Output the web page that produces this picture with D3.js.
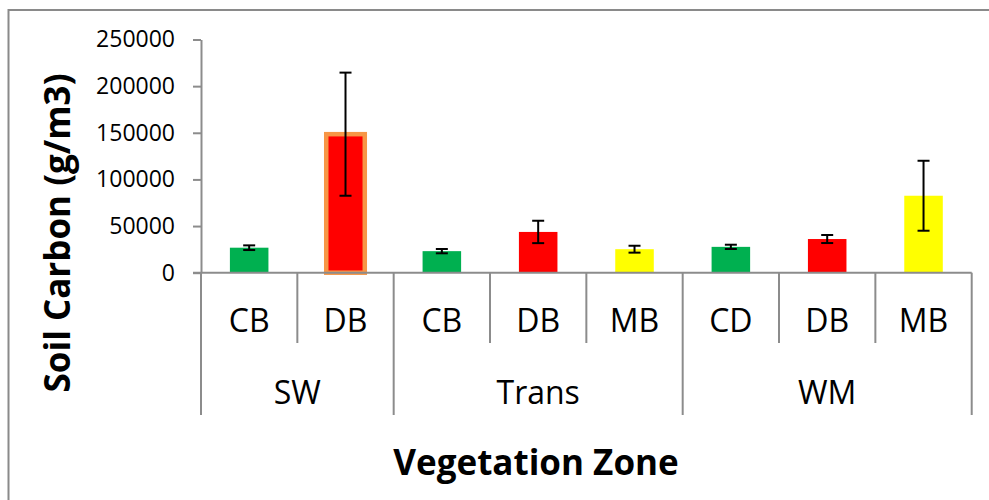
<!DOCTYPE html>
<html>
<head>
<meta charset="utf-8">
<script src="https://cdn.jsdelivr.net/npm/d3@7"></script>
<style>
  html, body { margin: 0; padding: 0; background: #fff; }
  svg { display: block; }
  text { font-family: "Open Sans", "Noto Sans", sans-serif; fill: #000; }
</style>
</head>
<body>
<svg id="chart" width="989" height="500"></svg>
<script>
// ---- data ----
const categories = ["CB", "DB", "CB", "DB", "MB", "CD", "DB", "MB"];
const zones      = ["SW", "SW", "Trans", "Trans", "Trans", "WM", "WM", "WM"];
const values     = [26800, 148500, 23100, 43700, 25200, 27700, 36100, 82500];
const errors     = [2500, 66000, 2300, 12000, 3700, 2300, 4300, 37500];
const yTicks     = [0, 50000, 100000, 150000, 200000, 250000];

// ---- style ----
const typeColor = { CB: "#00B050", CD: "#00B050", DB: "#FF0000", MB: "#FFFF00" };
const highlighted = 1; // the SW DB bar has an orange outline
const axisColor = "#8c8c8c";

const svg = d3.select("#chart");

// outer border of the chart area
svg.append("rect")
  .attr("x", 8.5).attr("y", 10)
  .attr("width", 1100).attr("height", 600)
  .attr("fill", "none").attr("stroke", "#8a8a8a").attr("stroke-width", 2);

const idx = d3.range(categories.length);
const x = d3.scaleBand().domain(idx).range([201, 971.7]).padding(0);
const y = d3.scaleLinear().domain([0, 250000]).range([272.7, 39.5]);
const barW = x.bandwidth() * 0.4;

// y axis
const yAxis = svg.append("g")
  .attr("transform", `translate(${x.range()[0]},0)`)
  .call(d3.axisLeft(y).tickValues(yTicks).tickSize(8).tickSizeOuter(0)
        .tickPadding(18).tickFormat(d3.format("d")));
yAxis.select(".domain").attr("stroke", axisColor).attr("stroke-width", 2);
yAxis.selectAll(".tick line").attr("stroke", axisColor).attr("stroke-width", 2);
yAxis.selectAll(".tick text").style("font-size", "23px").attr("fill", "#000");

// bars
const bars = svg.append("g");
bars.selectAll("rect")
  .data(idx)
  .join("rect")
  .attr("x", i => x(i) + (x.bandwidth() - barW) / 2)
  .attr("y", i => y(values[i]))
  .attr("width", barW)
  .attr("height", i => y(0) - y(values[i]))
  .attr("fill", i => typeColor[categories[i]])
  .attr("stroke", i => i === highlighted ? "#F79646" : "none")
  .attr("stroke-width", i => i === highlighted ? 4.5 : 0);

// x axis baseline
svg.append("line")
  .attr("x1", x.range()[0] - 8).attr("x2", x.range()[1])
  .attr("y1", y(0)).attr("y2", y(0))
  .attr("stroke", axisColor).attr("stroke-width", 2);

// category dividers
const yInner = 343, yOuter = 415;
const boundaries = d3.range(categories.length + 1);
svg.append("g").selectAll("line")
  .data(boundaries)
  .join("line")
  .attr("x1", b => x.range()[0] + b * x.step())
  .attr("x2", b => x.range()[0] + b * x.step())
  .attr("y1", y(0))
  .attr("y2", b => (b === 0 || b === categories.length || zones[b] !== zones[b - 1]) ? yOuter : yInner)
  .attr("stroke", axisColor).attr("stroke-width", 2);

// category labels
svg.append("g").selectAll("text")
  .data(idx)
  .join("text")
  .attr("x", i => x(i) + x.bandwidth() / 2)
  .attr("y", 331.5)
  .attr("text-anchor", "middle")
  .style("font-size", "32px")
  .text(i => categories[i]);

// zone labels
const zoneNames = Array.from(new Set(zones));
svg.append("g").selectAll("text")
  .data(zoneNames)
  .join("text")
  .attr("x", z => {
    const members = idx.filter(i => zones[i] === z);
    return (x(members[0]) + x(members[members.length - 1]) + x.bandwidth()) / 2;
  })
  .attr("y", 404)
  .attr("text-anchor", "middle")
  .style("font-size", "32px")
  .text(z => z);

// error bars
const eb = svg.append("g").attr("stroke", "#000").attr("stroke-width", 2);
const cap = 6;
idx.forEach(i => {
  const cx = x(i) + x.bandwidth() / 2;
  const hi = y(values[i] + errors[i]), lo = y(values[i] - errors[i]);
  eb.append("line").attr("x1", cx).attr("x2", cx).attr("y1", hi).attr("y2", lo);
  eb.append("line").attr("x1", cx - cap).attr("x2", cx + cap).attr("y1", hi).attr("y2", hi);
  eb.append("line").attr("x1", cx - cap).attr("x2", cx + cap).attr("y1", lo).attr("y2", lo);
});

// axis titles
svg.append("text")
  .attr("transform", "translate(70,233) rotate(-90)")
  .attr("text-anchor", "middle")
  .style("font-size", "35px").style("font-weight", "bold")
  .text("Soil Carbon (g/m3)");

svg.append("text")
  .attr("x", 536).attr("y", 475)
  .attr("text-anchor", "middle")
  .style("font-size", "35px").style("font-weight", "bold")
  .text("Vegetation Zone");
</script>
</body>
</html>
